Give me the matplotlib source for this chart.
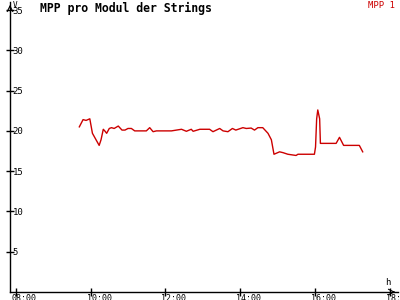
import matplotlib
matplotlib.use("Agg")
import matplotlib.pyplot as plt
import matplotlib.transforms as mtransforms

# time in decimal hours, MPP in V
hours = [9.70, 9.80, 9.88, 9.98, 10.05, 10.23, 10.28, 10.34, 10.38, 10.43,
         10.50, 10.56, 10.63, 10.74, 10.84, 10.92, 11.00, 11.09, 11.18, 11.49,
         11.58, 11.67, 11.76, 11.94, 12.07, 12.16, 12.43, 12.56, 12.69, 12.74,
         12.92, 13.18, 13.27, 13.45, 13.54, 13.67, 13.79, 13.88, 14.07, 14.16,
         14.29, 14.38, 14.47, 14.60, 14.74, 14.83, 14.90, 15.05, 15.14, 15.27,
         15.49, 15.54, 15.98, 16.01, 16.04, 16.07, 16.12, 16.14, 16.56, 16.65,
         16.76, 17.18, 17.27]
mpp = [20.5, 21.4, 21.3, 21.5, 19.7, 18.2, 18.9, 20.2, 20.0, 19.7,
       20.3, 20.4, 20.3, 20.6, 20.1, 20.1, 20.3, 20.3, 20.0, 20.0,
       20.4, 19.9, 20.0, 20.0, 20.0, 20.0, 20.2, 19.95, 20.2, 19.95,
       20.2, 20.2, 19.9, 20.3, 20.0, 19.9, 20.3, 20.1, 20.4, 20.3,
       20.35, 20.1, 20.4, 20.4, 19.7, 18.9, 17.1, 17.4, 17.3, 17.1,
       16.95, 17.1, 17.1, 18.0, 21.5, 22.6, 21.5, 18.45, 18.45, 19.2,
       18.2, 18.2, 17.4]

xticks = [8, 10, 12, 14, 16, 18]
xlabels = ["08:00", "10:00", "12:00", "14:00", "16:00", "18:00"]
yticks = [5, 10, 15, 20, 25, 30, 35]

red = "#cc0000"
mono = "DejaVu Sans Mono"

fig = plt.figure(figsize=(4, 3), dpi=100)
ax = fig.add_axes([10 / 400, 8 / 300, 388 / 400, 290 / 300])
ax.plot(hours, mpp, color=red, lw=1.0)

ax.set_xlim(7.848, 18.213)
ax.set_ylim(0, 36)
ax.set_xticks(xticks)
ax.set_xticklabels(xlabels)
ax.set_yticks(yticks)

for s in ["top", "right"]:
    ax.spines[s].set_visible(False)
for s in ["left", "bottom"]:
    ax.spines[s].set_linewidth(1.0)

ax.tick_params(axis="both", direction="inout", length=6, width=1,
               labelsize=6.5, colors="black")
ax.tick_params(axis="y", pad=-5)
ax.tick_params(axis="x", pad=-1.5, labelsize=6)
for lbl in ax.get_yticklabels():
    lbl.set_ha("left")
    lbl.set_family(mono)
shift = mtransforms.ScaledTranslation(-4 / 100, 0, fig.dpi_scale_trans)
for lbl in ax.get_xticklabels():
    lbl.set_ha("left")
    lbl.set_family(mono)
    lbl.set_transform(lbl.get_transform() + shift)

# axis arrows
ax.annotate("", xy=(1.0, 0), xytext=(0.98, 0), xycoords="axes fraction",
            arrowprops=dict(arrowstyle="->", lw=0.8, color="black"))
ax.annotate("", xy=(0, 1.0), xytext=(0, 0.97), xycoords="axes fraction",
            arrowprops=dict(arrowstyle="->", lw=0.8, color="black"))

fig.text(13 / 400, 1 - 1 / 300, "V", fontsize=5.5, family=mono, va="top")
fig.text(385 / 400, 1 - 278 / 300, "h", fontsize=6.5, family=mono, va="top")
fig.text(40 / 400, 1 - 2 / 300, "MPP pro Modul der Strings", fontsize=8.3,
         family=mono, weight="bold", va="top")
fig.text(395 / 400, 1 - 1 / 300, "MPP 1", fontsize=6.5, family=mono,
         color=red, ha="right", va="top")

fig.savefig("out.png", dpi=100)
